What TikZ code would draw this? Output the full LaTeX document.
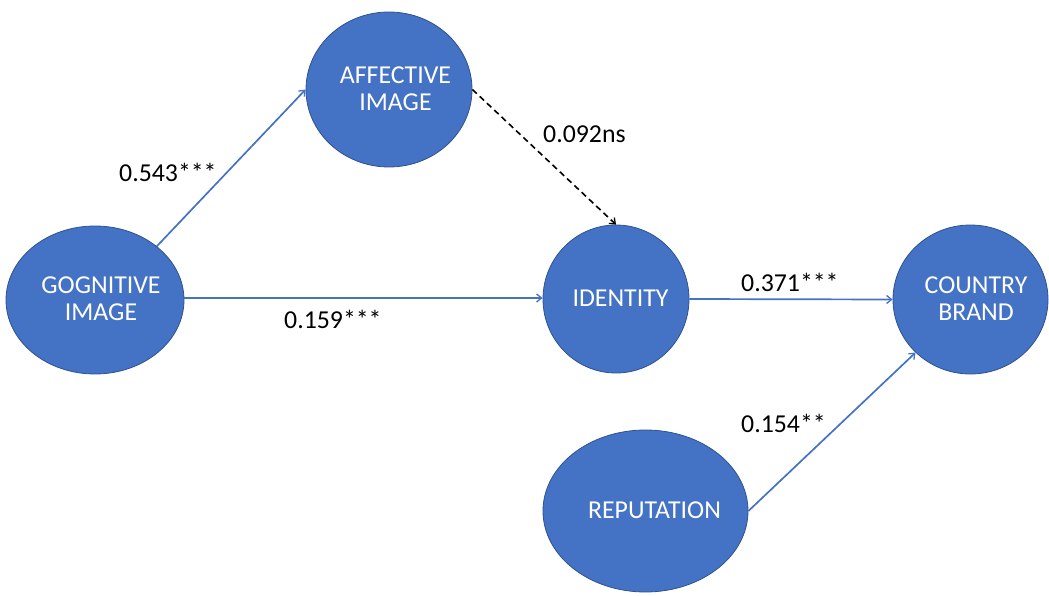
\documentclass[tikz,border=0pt]{standalone}
\usepackage{fontspec}
\setmainfont{Carlito}
\usetikzlibrary{shapes.geometric,arrows.meta}
\definecolor{nodefill}{HTML}{4472C4}
\definecolor{nodeedge}{HTML}{2F528F}
\definecolor{pathblue}{HTML}{4472C4}
\tikzset{
  construct/.style={ellipse, draw=nodeedge, fill=nodefill, line width=0.8pt, inner sep=0pt},
  constructtext/.style={text=white, align=center, inner sep=0pt, font=\fontsize{25.8}{27}\selectfont},
  coef/.style={anchor=base west, inner sep=0pt, text=black, font=\fontsize{25.8}{27}\selectfont},
  sigpath/.style={draw=pathblue, line width=1.7pt, -{Straight Barb[length=5pt,width=8pt,line width=1.3pt]}},
  nspath/.style={draw=black, line width=1.6pt, dash pattern=on 6pt off 4pt, -{Straight Barb[length=5pt,width=8pt,line width=1.3pt]}}
}
\begin{document}
\begin{tikzpicture}[x=1pt,y=-1pt]
  \useasboundingbox (0,0) rectangle (1049,596);

  % latent constructs
  \node[construct, minimum width=178pt, minimum height=148pt] (cog) at (95,300) {};
  \node[construct, minimum width=166pt, minimum height=155pt] (aff) at (389,89.5) {};
  \node[construct, minimum width=146pt, minimum height=148pt] (ident) at (616,299) {};
  \node[construct, minimum width=155pt, minimum height=149pt] (brand) at (970.5,299.5) {};
  \node[construct, minimum width=205pt, minimum height=162pt] (rep) at (645.5,511) {};

  % construct names
  \node[constructtext] (cogT) at (101,298.5) {GOGNITIVE\\IMAGE};
  \node[constructtext] (affT) at (395.5,88.5) {AFFECTIVE\\IMAGE};
  \node[constructtext, anchor=base] (identT) at (620.5,306) {IDENTITY};
  \node[constructtext] (brandT) at (976,298.5) {COUNTRY\\BRAND};
  \node[constructtext, anchor=base] (repT) at (654.5,518) {REPUTATION};

  % structural paths
  \draw[sigpath] (cog.41) -- (aff.west);
  \draw[sigpath] ([yshift=2pt]cog.east) -- ([yshift=1pt]ident.west);
  \draw[nspath] (aff.east) -- (ident.north);
  \draw[sigpath] (ident.east) -- (brand.west);
  \draw[sigpath] (rep.east) -- (brand.224);

  % path coefficients
  \node[coef] (c1) at (119,182) {0.543***};
  \node[coef] (c2) at (284,328) {0.159***};
  \node[coef] (c3) at (543,143) {0.092ns};
  \node[coef] (c4) at (741,291) {0.371***};
  \node[coef] (c5) at (741,432) {0.154**};
\end{tikzpicture}
\end{document}
